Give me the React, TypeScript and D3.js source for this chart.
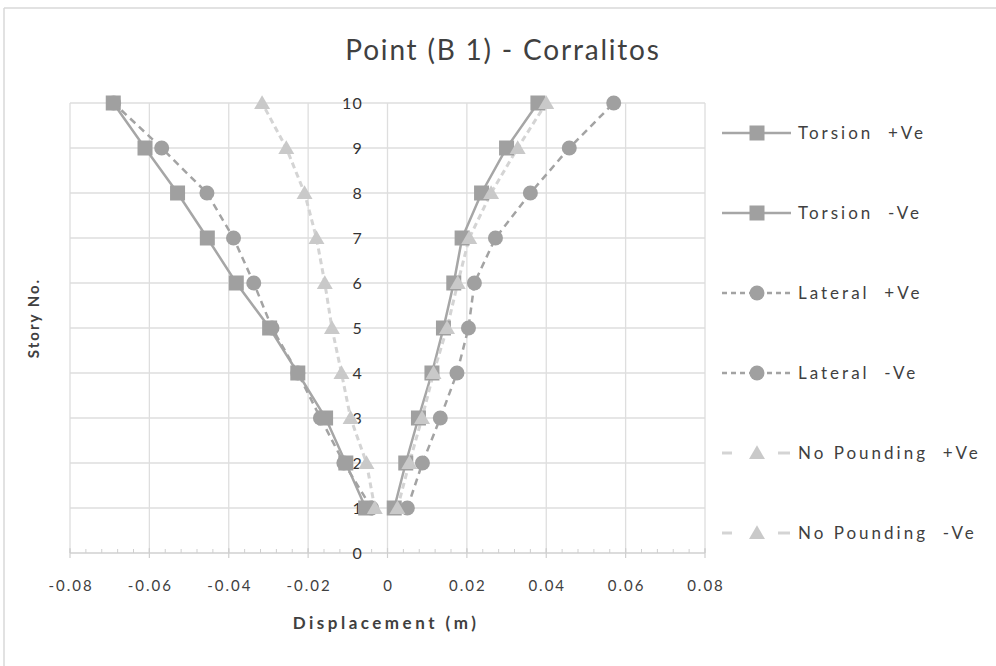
import React from "react";
import * as d3 from "d3";

const stories = [1, 2, 3, 4, 5, 6, 7, 8, 9, 10];
const torsionPos = [0.0017, 0.0046, 0.0078, 0.0112, 0.0141, 0.0167, 0.0188, 0.0237, 0.030, 0.0379];
const torsionNeg = [-0.0055, -0.0105, -0.0156, -0.0226, -0.0297, -0.0381, -0.0454, -0.0529, -0.0611, -0.0691];
const lateralPos = [0.005, 0.0088, 0.0133, 0.0175, 0.0204, 0.0219, 0.0272, 0.036, 0.0458, 0.057];
const lateralNeg = [-0.0040, -0.011, -0.0169, -0.0226, -0.0291, -0.0337, -0.0388, -0.0455, -0.0569, -0.069];
const noPoundPos = [0.0025, 0.0055, 0.0087, 0.0116, 0.015, 0.0177, 0.0206, 0.0261, 0.0328, 0.040];
const noPoundNeg = [-0.0032, -0.0053, -0.0093, -0.0116, -0.014, -0.0158, -0.0179, -0.0209, -0.0255, -0.0316];
const xTicks = [-0.08, -0.06, -0.04, -0.02, 0, 0.02, 0.04, 0.06, 0.08];
const yTicks = [0, 1, 2, 3, 4, 5, 6, 7, 8, 9, 10];
const seriesNames = ["Torsion  +Ve", "Torsion  -Ve", "Lateral  +Ve", "Lateral  -Ve", "No Pounding  +Ve", "No Pounding  -Ve"];

const FONT = "Lato, 'Open Sans', sans-serif";

type Style = { marker: "square" | "circle" | "triangle"; stroke: string; fill: string; dash: string | null; width: number };
const styles: Style[] = [
  { marker: "square", stroke: "#a6a6a6", fill: "#a0a0a0", dash: null, width: 2.5 },
  { marker: "square", stroke: "#a6a6a6", fill: "#a0a0a0", dash: null, width: 2.5 },
  { marker: "circle", stroke: "#a3a3a3", fill: "#a0a0a0", dash: "7,5", width: 2.5 },
  { marker: "circle", stroke: "#a3a3a3", fill: "#a0a0a0", dash: "7,5", width: 2.5 },
  { marker: "triangle", stroke: "#d4d4d4", fill: "#c9c9c9", dash: "6,4", width: 3 },
  { marker: "triangle", stroke: "#d4d4d4", fill: "#c9c9c9", dash: "6,4", width: 3 },
];

function Marker({ type, x, y, fill }: { type: string; x: number; y: number; fill: string }) {
  const s = 15;
  if (type === "square") return <rect x={x - s / 2} y={y - s / 2} width={s} height={s} fill={fill} />;
  if (type === "circle") return <circle cx={x} cy={y} r={7.5} fill={fill} />;
  const sym = d3.symbol().type(d3.symbolTriangle).size(110)();
  return <path d={sym || ""} transform={`translate(${x},${y + 1.5})`} fill={fill} />;
}

export default function App() {
  const x = d3.scaleLinear().domain([-0.08, 0.08]).range([70, 705]);
  const y = d3.scaleLinear().domain([0, 10]).range([553, 103]);
  const data = [torsionPos, torsionNeg, lateralPos, lateralNeg, noPoundPos, noPoundNeg];
  const line = d3.line<number>().x((d) => x(d)).y((_, i) => y(stories[i]));
  const minorTicks = d3.range(-0.08, 0.0801, 0.004);

  return (
    <svg width={996} height={666} style={{ position: "absolute", left: 0, top: 0, background: "#fff" }}>
      <rect x={0} y={0} width={996} height={666} fill="#fff" />
      <line x1={4} y1={8} x2={4} y2={666} stroke="#d9d9d9" strokeWidth={1.5} />
      <line x1={4} y1={8} x2={996} y2={8} stroke="#d9d9d9" strokeWidth={1.5} />

      <text x={503} y={60} textAnchor="middle" fontFamily={FONT} fontSize={28} fill="#404040" letterSpacing={1.8}>
        Point (B 1) - Corralitos
      </text>

      {/* gridlines */}
      {yTicks.filter((t) => t > 0).map((t) => (
        <line key={"gy" + t} x1={x(-0.08)} x2={x(0.08)} y1={y(t)} y2={y(t)} stroke="#dedede" strokeWidth={1.3} />
      ))}
      {xTicks.map((t) => (
        <line key={"gx" + t} x1={x(t)} x2={x(t)} y1={y(10)} y2={y(0)} stroke="#dedede" strokeWidth={1.3} />
      ))}

      {/* x axis */}
      <line x1={x(-0.08)} x2={x(0.08)} y1={y(0)} y2={y(0)} stroke="#d0d0d0" strokeWidth={1.3} />
      {minorTicks.map((t, i) => (
        <line key={"mt" + i} x1={x(t)} x2={x(t)} y1={y(0) - 4} y2={y(0)} stroke="#cfcfcf" strokeWidth={1} />
      ))}
      {xTicks.map((t) => (
        <line key={"mj" + t} x1={x(t)} x2={x(t)} y1={y(0) - 5} y2={y(0) + 5} stroke="#cfcfcf" strokeWidth={1.2} />
      ))}
      {xTicks.map((t) => (
        <text key={"xl" + t} x={x(t) + 1} y={591} textAnchor="middle" fontFamily={FONT} fontSize={15} fill="#404040" letterSpacing={2}>
          {t === 0 ? "0" : d3.format(".2f")(t).replace("−", "-")}
        </text>
      ))}
      {yTicks.map((t) => (
        <text key={"yl" + t} x={363} y={y(t) + 6} textAnchor="end" fontFamily={FONT} fontSize={16} fill="#333" letterSpacing={1.2}>
          {t}
        </text>
      ))}

      {/* series lines */}
      {data.map((vals, si) => (
        <path key={"ln" + si} d={line(vals) || ""} fill="none" stroke={styles[si].stroke} strokeWidth={styles[si].width}
          strokeDasharray={styles[si].dash || undefined} />
      ))}
      {data.map((vals, si) => (
        <g key={"mk" + si}>
          {vals.map((v, i) => (
            <Marker key={i} type={styles[si].marker} x={x(v)} y={y(stories[i])} fill={styles[si].fill} />
          ))}
        </g>
      ))}

      {/* axis titles */}
      <text x={386} y={629} textAnchor="middle" fontFamily={FONT} fontSize={17} fontWeight="bold" fill="#404040" letterSpacing={3.5}>
        Displacement (m)
      </text>
      <text transform="translate(39,318) rotate(-90)" textAnchor="middle" fontFamily={FONT} fontSize={15} fontWeight="bold" fill="#404040" letterSpacing={2}>
        Story No.
      </text>

      {/* legend */}
      {seriesNames.map((name, i) => {
        const ly = 133 + i * 80;
        const st = styles[i];
        return (
          <g key={"lg" + i}>
            {st.marker === "triangle" ? (
              <>
                <line x1={722} x2={732} y1={ly} y2={ly} stroke={st.stroke} strokeWidth={st.width} />
                <line x1={778} x2={790} y1={ly} y2={ly} stroke={st.stroke} strokeWidth={st.width} />
              </>
            ) : (
              <line x1={722} x2={791} y1={ly} y2={ly} stroke={st.stroke} strokeWidth={st.width} strokeDasharray={st.marker === "circle" ? "5,4" : undefined} />
            )}
            <Marker type={st.marker} x={757} y={ly} fill={st.fill} />
            <text x={798} y={ly + 6} fontFamily={FONT} fontSize={17} fill="#404040" letterSpacing={3} style={{ whiteSpace: "pre" }} xmlSpace="preserve">
              {name}
            </text>
          </g>
        );
      })}
    </svg>
  );
}
